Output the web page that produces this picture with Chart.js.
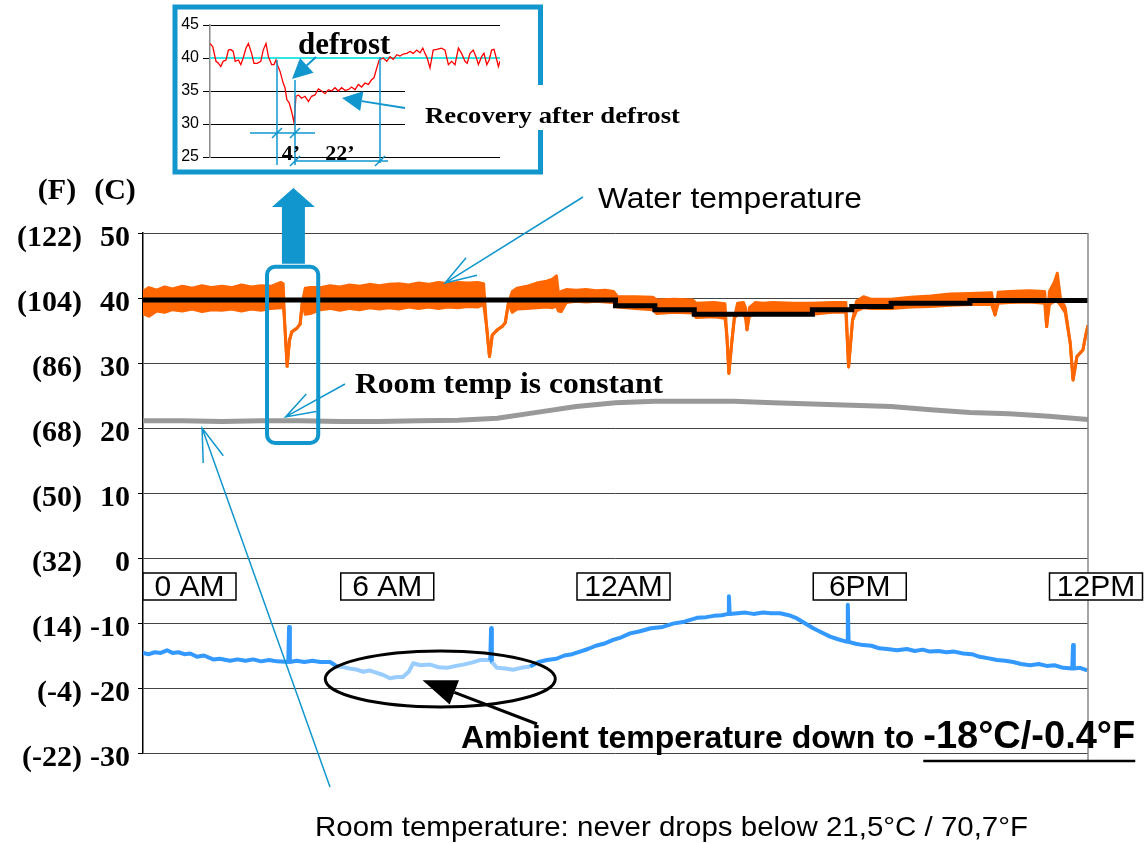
<!DOCTYPE html>
<html>
<head>
<meta charset="utf-8">
<script src="https://cdn.jsdelivr.net/npm/chart.js@4/dist/chart.umd.min.js"></script>
<style>
  html, body { margin: 0; padding: 0; background: #fff; }
  #wrap { position: relative; width: 1146px; height: 843px; }
  #main, #inset { position: absolute; left: 0; top: 0; }
</style>
</head>
<body>
<div id="wrap">
  <canvas id="main" width="1146" height="843"></canvas>
  <canvas id="inset" width="1146" height="180"></canvas>
</div>
<script>
  // ---- main chart data (x = hours since 0 AM, y = °C) ----
  const timeTickHours = [0, 6, 12, 18, 24];
  const timeTickLabels = ['0 AM', '6 AM', '12AM', '6PM', '12PM'];
  const cTicks = [50, 40, 30, 20, 10, 0, -10, -20, -30];
  const fTicks = [122, 104, 86, 68, 50, 32, 14, -4, -22];

  // water temperature band (upper / lower edge of the noisy trace)
  const waterHours = [
    0, 0.15, 0.35, 0.55, 0.75, 1, 1.25, 1.5, 1.75, 2, 2.25, 2.5, 2.75, 3, 3.25, 3.5,
    3.56, 3.6, 3.66, 3.72, 3.78, 3.9, 3.99, 4.05, 4.12, 4.25,
    4.5, 4.75, 5, 5.25, 5.5, 5.75, 6, 6.25, 6.5, 6.75, 7, 7.25, 7.5, 7.75, 8, 8.25, 8.5, 8.65,
    8.72, 8.8, 8.87, 9, 9.12, 9.2, 9.28, 9.38, 9.5, 9.75, 10, 10.25, 10.4, 10.5, 10.55, 10.62, 10.75, 11, 11.25, 11.5, 11.75, 11.95,
    12.05, 12.5, 12.95, 13.05, 13.5, 13.95, 14.05, 14.5, 14.78, 14.83, 14.88, 14.95, 15.02, 15.1, 15.25, 15.3, 15.34, 15.4, 15.55, 15.75, 16, 16.5, 17, 17.5, 17.85, 17.92, 18.02,
    18.12, 18.3, 18.5, 19, 19.5, 20, 20.5, 21, 21.55, 21.64, 21.72, 22, 22.5, 22.9, 22.95, 23.02, 23.15, 23.22, 23.3, 23.42, 23.55, 23.62, 23.72, 23.87, 23.95, 24
  ];
  const waterHigh = [
    41.0, 41.6, 41.2, 41.7, 41.4, 41.8, 41.5, 41.9, 41.6, 41.8, 41.6, 42.0, 41.7, 41.9, 41.8, 42.4,
    42.2, 36.0, 29.5, 33.5, 34.8, 35.3, 36.0, 39.5, 41.5, 41.6,
    41.6, 41.9, 41.7, 42.0, 41.8, 42.1, 41.9, 42.1, 42.2, 42.0, 42.3, 42.1, 42.4, 42.2, 42.4, 42.3, 42.4, 42.2,
    36.0, 31.0, 34.3, 35.1, 35.6, 36.2, 39.2, 41.0, 41.5, 41.8, 42.3, 42.6, 42.9, 43.4, 40.7, 41.0, 41.3, 41.2, 41.3, 41.1, 41.2, 41.0,
    40.2, 40.2, 40.1, 39.7, 39.8, 39.7, 39.2, 39.3, 39.1, 34.0, 28.4, 33.0, 37.0, 39.2, 39.3, 38.5, 35.1, 38.5, 39.3, 39.2, 39.3, 39.2, 39.2, 39.3, 39.3, 29.4, 36.6,
    39.5, 40.2, 39.8, 39.8, 40.1, 40.3, 40.6, 40.7, 40.8, 37.4, 40.9, 41.0, 41.1, 41.0, 35.6, 41.0, 42.5, 43.8, 40.0, 38.5, 33.0, 27.4, 31.0, 32.0, 34.5, 35.8
  ];
  const waterLow = [
    37.6, 37.2, 38.0, 37.8, 38.2, 38.0, 38.3, 37.9, 38.2, 38.1, 38.3, 38.0, 38.3, 38.1, 38.4, 38.5,
    39.0, 36.0, 29.5, 33.5, 34.8, 35.3, 36.0, 39.5, 37.5, 37.6,
    38.2, 38.4, 38.1, 38.4, 38.2, 38.5, 38.3, 38.5, 38.3, 38.6, 38.4, 38.6, 38.4, 38.6, 38.5, 38.7, 38.6, 39.0,
    36.0, 31.0, 34.3, 35.1, 35.6, 36.2, 39.2, 37.8, 38.3, 38.4, 38.5, 38.6, 38.5, 38.8, 38.0, 37.9, 39.3, 39.5, 39.4, 39.5, 39.4, 39.3,
    38.6, 38.4, 38.2, 37.6, 37.8, 37.7, 37.0, 37.1, 36.9, 34.0, 28.4, 33.0, 37.0, 37.4, 37.6, 37.0, 35.1, 37.2, 37.6, 37.6, 37.7, 37.6, 37.5, 37.8, 37.8, 29.4, 36.6,
    38.0, 38.5, 38.4, 38.4, 38.6, 38.7, 38.9, 39.0, 39.0, 37.4, 39.2, 39.3, 39.4, 39.2, 35.6, 39.0, 39.5, 39.5, 38.9, 37.8, 33.0, 27.4, 31.0, 32.0, 34.5, 35.8
  ];

  // set point (stepped black line)
  const setHours = [0, 12, 13, 14, 17, 18, 19, 21, 24];
  const setTemp = [39.7, 38.8, 38.2, 37.5, 38.2, 38.7, 39.2, 39.6, 39.6];

  // room temperature (grey)
  const roomHours = [0, 1, 2, 3, 4, 5, 6, 7, 8, 9, 10, 11, 12, 13, 14, 15, 16, 17, 18, 19, 20, 21, 22, 23, 24];
  const roomTemp = [21.1, 21.1, 21.0, 21.1, 21.1, 21.0, 21.0, 21.1, 21.2, 21.5, 22.4, 23.3, 23.9, 24.1, 24.1, 24.1, 23.9, 23.7, 23.5, 23.3, 22.8, 22.4, 22.2, 21.8, 21.3];

  // ambient temperature (blue)
  const ambientHours = [
    0, 0.15, 0.3, 0.45, 0.61, 0.75, 0.9, 1.05, 1.2, 1.37, 1.55, 1.78, 1.95, 2.21, 2.4, 2.6, 2.8, 3.0, 3.2, 3.4,
    3.69, 3.71, 3.73, 3.9, 4.1, 4.3, 4.5, 4.75, 4.93, 5.1, 5.25, 5.45, 5.59, 5.75, 5.9, 6.1, 6.27, 6.45, 6.6, 6.75,
    6.86, 7.05, 7.29, 7.5, 7.72, 7.95, 8.13, 8.35, 8.56, 8.82, 8.84, 8.86, 8.99, 9.2, 9.4, 9.6, 9.83, 10.05, 10.26, 10.5,
    10.7, 10.9, 11.1, 11.3, 11.5, 11.7, 11.94, 12.15, 12.37, 12.6, 12.9, 13.2, 13.46, 13.75, 14.07, 14.3, 14.5, 14.7, 14.86, 14.88,
    14.9, 15.1, 15.3, 15.5, 15.75, 15.95, 16.18, 16.4, 16.61, 16.8, 17.02, 17.25, 17.45, 17.65, 17.88, 17.9, 17.92, 18.1, 18.29, 18.5,
    18.7, 18.9, 19.15, 19.4, 19.6, 19.8, 19.99, 20.2, 20.4, 20.6, 20.83, 21.05, 21.25, 21.45, 21.69, 21.9, 22.1, 22.3, 22.53, 22.75,
    22.95, 23.15, 23.37, 23.6, 23.62, 23.64, 23.8, 23.98
  ];
  const ambientTemp = [
    -14.6, -14.8, -14.5, -14.6, -14.2, -14.6, -14.5, -14.8, -14.7, -15.2, -15.0, -15.6, -15.5, -15.8, -15.6, -15.8, -15.6, -15.9, -15.7, -15.9,
    -16.0, -10.6, -16.0, -15.8, -16.0, -15.8, -16.0, -16.0, -16.7, -16.8, -17.0, -17.2, -17.5, -17.3, -17.6, -18.0, -18.5, -18.3, -18.3, -17.5,
    -16.2, -16.5, -16.4, -16.8, -16.9, -16.6, -16.4, -16.1, -15.7, -15.7, -10.8, -16.0, -16.9, -17.0, -17.2, -16.9, -16.7, -16.0, -15.7, -15.5,
    -15.0, -14.8, -14.4, -14.0, -13.5, -13.2, -12.6, -12.2, -11.6, -11.3, -10.8, -10.6, -10.1, -9.8, -9.2, -9.1, -8.9, -8.8, -8.6, -5.9,
    -8.6, -8.5, -8.4, -8.6, -8.4, -8.5, -8.5, -8.8, -9.3, -10.0, -10.8, -11.5, -12.1, -12.5, -12.9, -7.2, -12.9, -13.2, -13.4, -13.5,
    -13.9, -14.0, -14.2, -14.0, -14.3, -14.1, -14.4, -14.3, -14.5, -14.4, -14.7, -14.8, -15.2, -15.4, -15.7, -15.8, -16.0, -16.3, -16.5, -16.3,
    -16.6, -16.5, -16.9, -17.0, -13.4, -17.0, -16.9, -17.3
  ];
  const coldSpell = [4.8, 9.9]; // lighter blue part

  // ---- inset (defrost detail, x = minutes) ----
  const defrostMin = [
    0, 0.7, 1.5, 2.1, 2.7, 3.3, 4.0, 4.6, 5.2, 5.8,
    6.3, 7.1, 7.7, 8.3, 9.0, 9.6, 10.4, 11.0, 11.8, 12.7,
    13.3, 14.0, 14.6, 15.4, 16.0, 16.5, 16.8, 17.5, 18.3, 18.75,
    19.2, 19.8, 20.4, 21.0, 21.5, 22.1, 22.9, 23.75, 24.6, 25.4,
    26.25, 27.1, 27.9, 28.75, 29.6, 30.4, 31.25, 32.1, 32.9, 33.75,
    34.6, 35.4, 36.25, 37.1, 37.9, 38.75, 39.6, 40.4, 41.0, 41.7,
    42.3, 43.3, 44.2, 45.0, 45.8, 46.7, 47.5, 48.3, 49.2, 50.0,
    50.8, 51.7, 52.5, 53.2, 53.75, 54.3, 55.0, 55.8, 56.7, 57.9,
    58.75, 59.6, 60.4, 61.25, 62.1, 62.9, 63.75, 64.3, 65.0, 65.8,
    66.5, 67.1, 67.9, 68.5, 69.2, 69.8, 70.4, 71.0, 71.7, 72.1, 72.5
  ];
  const defrostTemp = [
    42.2, 41.7, 39.5, 39.2, 38.7, 39.5, 39.7, 41.2, 41.3, 41.0,
    39.5, 39.7, 39.0, 40.0, 41.5, 42.2, 40.7, 39.2, 39.2, 39.5,
    41.2, 42.2, 40.2, 39.0, 39.0, 39.7, 39.0, 38.0, 36.2, 35.5,
    33.7, 33.2, 31.9, 30.2, 34.2, 34.4, 33.9, 34.2, 33.4, 34.2,
    34.4, 35.3, 35.0, 34.6, 35.2, 35.0, 35.5, 35.0, 35.5, 35.1,
    35.2, 35.6, 35.2, 36.0, 35.6, 36.2, 36.0, 36.7, 37.0, 38.5,
    39.7, 40.0, 39.5, 40.2, 39.8, 40.5, 40.3, 40.6, 40.7, 41.0,
    40.7, 41.2, 40.8, 41.5, 40.7, 40.0, 38.5, 41.2, 41.3, 41.5,
    41.2, 39.0, 39.5, 39.0, 41.5, 40.7, 39.5, 39.2, 40.7, 41.2,
    40.2, 39.0, 40.2, 40.7, 39.0, 39.7, 41.2, 41.3, 39.7, 38.7, 39.5
  ];
  const insetRef = 40;

  const SERIF = '"Liberation Serif", "Times New Roman", serif';
  const SANS = '"Liberation Sans", Arial, sans-serif';
  const CYAN = '#1196CE';

  const pts = (xs, ys) => xs.map((x, i) => ({ x: x, y: ys[i] }));

  function openArrow(ctx, x0, y0, x1, y1, len, ang) {
    const a = Math.atan2(y0 - y1, x0 - x1);
    ctx.beginPath();
    ctx.moveTo(x0, y0);
    ctx.lineTo(x1, y1);
    ctx.moveTo(x1 + len * Math.cos(a + ang), y1 + len * Math.sin(a + ang));
    ctx.lineTo(x1, y1);
    ctx.lineTo(x1 + len * Math.cos(a - ang), y1 + len * Math.sin(a - ang));
    ctx.stroke();
  }

  function solidArrow(ctx, x0, y0, x1, y1, len, half) {
    const a = Math.atan2(y1 - y0, x1 - x0);
    const bx = x1 - len * Math.cos(a), by = y1 - len * Math.sin(a);
    ctx.beginPath();
    ctx.moveTo(x0, y0);
    ctx.lineTo(bx, by);
    ctx.stroke();
    ctx.beginPath();
    ctx.moveTo(x1, y1);
    ctx.lineTo(bx + half * Math.sin(a), by - half * Math.cos(a));
    ctx.lineTo(bx - half * Math.sin(a), by + half * Math.cos(a));
    ctx.closePath();
    ctx.fill();
  }

  // draw text squeezed / stretched to a given width
  function fitText(ctx, text, x, y, w) {
    const m = ctx.measureText(text).width;
    ctx.save();
    ctx.translate(x, y);
    ctx.scale(w / m, 1);
    ctx.fillText(text, 0, 0);
    ctx.restore();
  }

  const mainNotes = {
    id: 'mainNotes',
    afterDraw(chart) {
      const ctx = chart.ctx;
      const area = chart.chartArea;
      const px = v => chart.scales.x.getPixelForValue(v);
      const py = v => chart.scales.y.getPixelForValue(v);
      ctx.save();

      // right frame line
      ctx.strokeStyle = '#888';
      ctx.lineWidth = 1.5;
      ctx.beginPath();
      ctx.moveTo(area.right, area.top);
      ctx.lineTo(area.right, area.bottom + 8);
      ctx.stroke();

      // unit headers
      ctx.fillStyle = '#000';
      ctx.font = 'bold 30px ' + SERIF;
      ctx.textAlign = 'center';
      ctx.textBaseline = 'middle';
      ctx.fillText('(F)', 57, 191);
      ctx.fillText('(C)', 115, 191);

      // boxed time labels
      ctx.font = '30px ' + SANS;
      const boxTop = py(0) + 15;
      timeTickHours.forEach((h, i) => {
        let left = Math.max(area.left, px(h) + 8 - 46.5);
        ctx.fillStyle = '#fff';
        ctx.fillRect(left, boxTop, 93, 27);
        ctx.strokeStyle = '#000';
        ctx.lineWidth = 1.5;
        ctx.strokeRect(left, boxTop, 93, 27);
        ctx.fillStyle = '#000';
        ctx.fillText(timeTickLabels[i], left + 46.5, boxTop + 15);
      });

      // defrost frame and big arrow
      ctx.strokeStyle = CYAN;
      ctx.lineWidth = 4;
      ctx.beginPath();
      ctx.roundRect(px(3.15), py(44.8), px(4.45) - px(3.15), py(17.7) - py(44.8), 8);
      ctx.stroke();
      const ax = px(3.82);
      ctx.fillStyle = CYAN;
      ctx.beginPath();
      ctx.moveTo(ax - 11.5, py(44.8) - 3);
      ctx.lineTo(ax - 11.5, 207);
      ctx.lineTo(ax - 21.5, 207);
      ctx.lineTo(ax, 188);
      ctx.lineTo(ax + 21.5, 207);
      ctx.lineTo(ax + 11.5, 207);
      ctx.lineTo(ax + 11.5, py(44.8) - 3);
      ctx.closePath();
      ctx.fill();

      // water temperature label
      ctx.textAlign = 'left';
      ctx.textBaseline = 'alphabetic';
      ctx.fillStyle = '#000';
      ctx.font = '29px ' + SANS;
      fitText(ctx, 'Water temperature', 598, 208, 264);
      ctx.strokeStyle = CYAN;
      ctx.lineWidth = 1.5;
      openArrow(ctx, 583, 197, px(7.67), py(42.3), 33, 0.32);

      // room temp is constant
      ctx.font = 'bold 30px ' + SERIF;
      fitText(ctx, 'Room temp is constant', 355, 393, 308);
      openArrow(ctx, 345, 384, px(3.62), py(21.7), 31, 0.33);

      // room temperature footnote
      ctx.font = '28px ' + SANS;
      fitText(ctx, 'Room temperature: never drops below 21,5°C / 70,7°F', 315, 836, 713);
      openArrow(ctx, 330, 787, px(1.5), py(20.0), 35, 0.31);

      // ellipse around the cold spell
      ctx.strokeStyle = '#000';
      ctx.lineWidth = 3;
      ctx.beginPath();
      ctx.ellipse(px(7.55), py(-18.6), 115, 28, 0, 0, Math.PI * 2);
      ctx.stroke();
      ctx.fillStyle = '#000';
      solidArrow(ctx, 537, 724, px(7.1), py(-18.8), 34, 13);

      // ambient note
      ctx.font = 'bold 32px ' + SANS;
      const part1 = 'Ambient temperature down to ';
      ctx.fillText(part1, 461, 748);
      const x2 = 461 + ctx.measureText(part1).width;
      ctx.font = 'bold 38px ' + SANS;
      const part2 = '-18°C/-0.4°F';
      ctx.fillText(part2, x2, 748);
      const w2 = ctx.measureText(part2).width;
      ctx.lineWidth = 2.5;
      ctx.beginPath();
      ctx.moveTo(x2, 761);
      ctx.lineTo(x2 + w2, 761);
      ctx.stroke();

      ctx.restore();
    }
  };

  new Chart(document.getElementById('main'), {
    type: 'line',
    data: {
      datasets: [
        {
          label: 'Set point',
          data: pts(setHours, setTemp),
          borderColor: '#000',
          borderWidth: 5,
          stepped: true,
          pointRadius: 0,
          order: 0
        },
        {
          label: 'Ambient',
          data: pts(ambientHours, ambientTemp),
          borderColor: '#3399FF',
          borderWidth: 4,
          borderJoinStyle: 'round',
          pointRadius: 0,
          order: 1,
          segment: {
            borderColor: c => {
              const a = c.p0.parsed, b = c.p1.parsed;
              const cold = a.x >= coldSpell[0] && b.x <= coldSpell[1] && a.y < -12 && b.y < -12;
              return cold ? '#99CCFF' : '#3399FF';
            }
          }
        },
        {
          label: 'Room',
          data: pts(roomHours, roomTemp),
          borderColor: '#999999',
          borderWidth: 5,
          pointRadius: 0,
          order: 2
        },
        {
          label: 'Water high',
          data: pts(waterHours, waterHigh),
          borderColor: '#FF6600',
          backgroundColor: '#FF6600',
          borderWidth: 3,
          borderJoinStyle: 'round',
          pointRadius: 0,
          fill: '+1',
          order: 4
        },
        {
          label: 'Water low',
          data: pts(waterHours, waterLow),
          borderColor: '#FF6600',
          borderWidth: 3,
          borderJoinStyle: 'round',
          pointRadius: 0,
          fill: false,
          order: 3
        }
      ]
    },
    options: {
      responsive: false,
      animation: false,
      layout: { padding: { top: 233, right: 58, bottom: 90, left: 0 } },
      plugins: { legend: { display: false }, tooltip: { enabled: false } },
      scales: {
        x: { type: 'linear', min: 0, max: 24, display: false },
        y: {
          min: -30, max: 50, weight: 0,
          afterBuildTicks: s => { s.ticks = cTicks.map(v => ({ value: v })); },
          afterFit: s => { s.width = 53; },
          ticks: {
            color: '#000', padding: 8, labelOffset: 5,
            font: { family: SERIF, size: 30, weight: 'bold' }
          },
          grid: { color: '#444', lineWidth: 1, tickLength: 5, tickColor: '#000' },
          border: { color: '#000', width: 1.5 }
        },
        yF: {
          position: 'left', min: -22, max: 122, weight: 1,
          afterBuildTicks: s => { s.ticks = fTicks.map(v => ({ value: v })); },
          afterFit: s => { s.width = 90; },
          ticks: {
            color: '#000', padding: 8, labelOffset: 5,
            callback: v => '(' + v + ')',
            font: { family: SERIF, size: 30, weight: 'bold' }
          },
          grid: { display: false, drawTicks: false },
          border: { display: false }
        }
      }
    },
    plugins: [mainNotes]
  });

  const insetNotes = {
    id: 'insetNotes',
    afterDraw(chart) {
      const ctx = chart.ctx;
      ctx.save();
      // outer frame
      ctx.strokeStyle = CYAN;
      ctx.lineWidth = 5;
      ctx.strokeRect(175, 7, 365.5, 165);

      // label on white
      ctx.fillStyle = '#fff';
      ctx.fillRect(405, 85, 290, 45);
      ctx.fillStyle = '#000';
      ctx.font = 'bold 23px ' + SERIF;
      fitText(ctx, 'Recovery after defrost', 425, 123, 255);
      ctx.fillStyle = CYAN;
      ctx.strokeStyle = CYAN;
      ctx.lineWidth = 2;
      solidArrow(ctx, 405, 108, 342, 98, 20, 10);

      ctx.fillStyle = '#000';
      ctx.font = 'bold 31px ' + SERIF;
      ctx.fillText('defrost', 298, 54);
      ctx.fillStyle = CYAN;
      solidArrow(ctx, 316, 57, 292, 79, 20, 10);

      // defrost timing marks
      ctx.lineWidth = 1.5;
      ctx.beginPath();
      ctx.moveTo(277, 60); ctx.lineTo(277, 165);
      ctx.moveTo(295, 80); ctx.lineTo(295, 165);
      ctx.moveTo(380, 57); ctx.lineTo(380, 163);
      ctx.moveTo(250, 133); ctx.lineTo(315, 133);
      ctx.moveTo(295, 161); ctx.lineTo(388, 161);
      [[277, 133], [295, 133], [295, 161], [380, 161]].forEach(([x, y]) => {
        ctx.moveTo(x - 5, y + 5);
        ctx.lineTo(x + 5, y - 5);
      });
      ctx.stroke();

      ctx.fillStyle = '#000';
      ctx.font = 'bold 22px ' + SERIF;
      ctx.textAlign = 'center';
      ctx.fillText('4\u2019', 291, 160);
      ctx.fillText('22\u2019', 340, 160);
      ctx.restore();
    }
  };

  new Chart(document.getElementById('inset'), {
    type: 'line',
    data: {
      datasets: [
        {
          label: 'Water',
          data: pts(defrostMin, defrostTemp),
          borderColor: '#FF0000',
          borderWidth: 1.3,
          pointRadius: 0
        },
        {
          label: 'Ref',
          data: [{ x: 0, y: insetRef }, { x: 72.5, y: insetRef }],
          borderColor: '#33E6E6',
          borderWidth: 2,
          pointRadius: 0
        }
      ]
    },
    options: {
      responsive: false,
      animation: false,
      layout: { padding: { top: 25, right: 646, bottom: 23, left: 180 } },
      plugins: { legend: { display: false }, tooltip: { enabled: false } },
      scales: {
        x: { type: 'linear', min: 0, max: 72.5, display: false },
        y: {
          min: 25, max: 45,
          afterFit: s => { s.width = 30; },
          ticks: { stepSize: 5, color: '#000', padding: 4, font: { family: SANS, size: 16 } },
          grid: { color: '#000', lineWidth: 1, tickLength: 7, tickColor: '#000' },
          border: { color: '#888', width: 1.5 }
        }
      }
    },
    plugins: [insetNotes]
  });
</script>
</body>
</html>
